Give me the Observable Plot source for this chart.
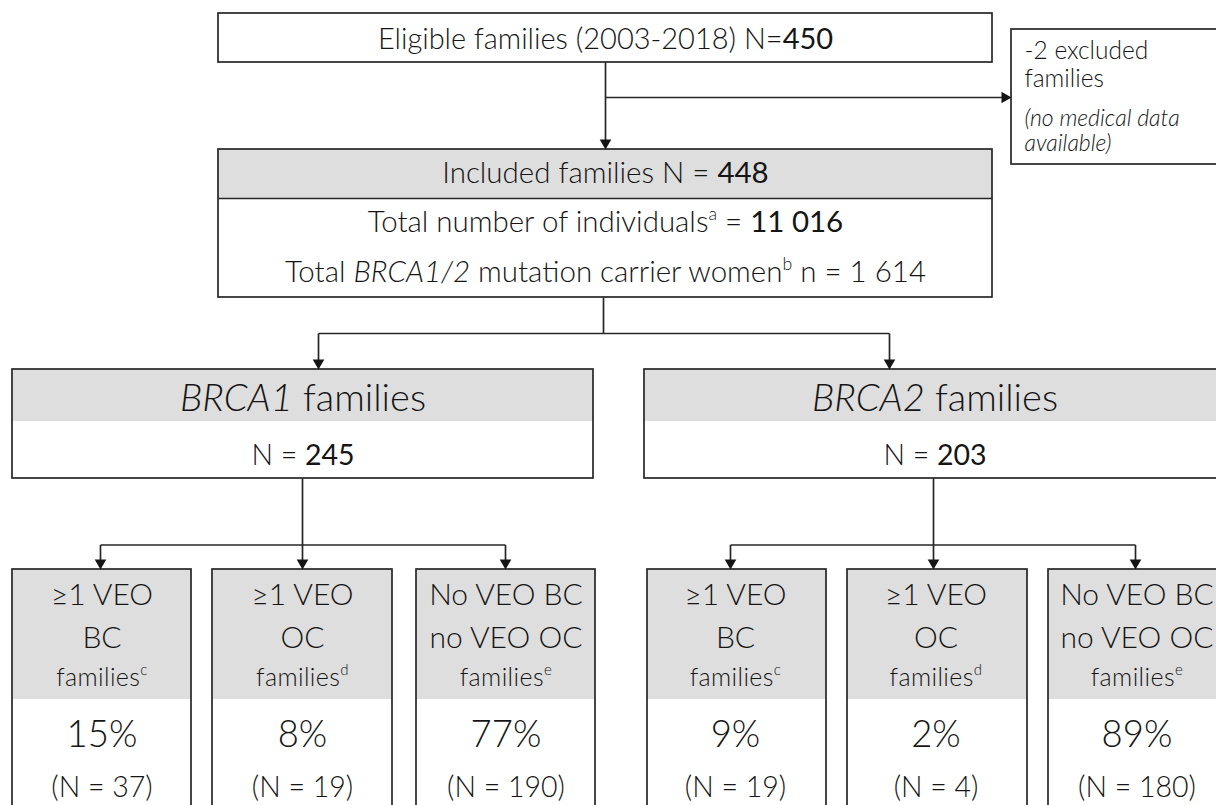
<!DOCTYPE html>
<html>
<head>
<meta charset="utf-8">
<script src="https://cdn.jsdelivr.net/npm/d3@7"></script>
<script src="https://cdn.jsdelivr.net/npm/@observablehq/plot@0.6"></script>
<style>
  html, body { margin: 0; padding: 0; overflow: hidden; background: #fff; }
  #chart svg { display: block; }
  .fam { letter-spacing: 0.4px; }
</style>
</head>
<body>
<div id="chart"></div>
<script>
// ---------------- DATA ----------------
const topCounts = [450, 2, 448];              // eligible, excluded, included families
const studyYears = ["2003", "2018"];
const totals = [11016, 1614];                  // individuals, BRCA1/2 carrier women
const genes = ["BRCA1", "BRCA2"];
const geneFamilies = [245, 203];
const groupTitles = [["≥1 VEO", "BC"], ["≥1 VEO", "OC"], ["No VEO BC", "no VEO OC"]];
const groupNotes = ["c", "d", "e"];
const groupPct = [[15, 8, 77], [9, 2, 89]];
const groupN = [[37, 19, 190], [19, 4, 180]];

// ---------------- LAYOUT ----------------
const W = 1216, H = 805;
const GREY = "#dedede", INK = "#151515", LINE = "#262626";
const topBox = {x1: 218, x2: 992, y1: 13, y2: 62};
const exclBox = {x1: 1011, x2: 1240, y1: 29, y2: 164};
const inclBox = {x1: 218, x2: 992, y1: 149, y2: 297, head: 198};
const geneBoxX = [[12, 593], [644, 1225]];
const geneY = {y1: 369, head: 421, y2: 478};
const subBoxX = [[[12, 191], [212, 392], [416, 595]], [[647, 826], [847, 1027], [1048, 1228]]];
const subY = {y1: 569, head: 699, y2: 818};
const mainX = 605, splitX = 603, splitY = 333, exclY = 97;
const geneArrowX = [318, 889];
const geneStemX = [302, 933];
const subSplitY = 544.5;
const subArrowX = [[100, 302, 505], [730, 933, 1135]];
const AR = 4.3;                                   // arrow dot radius
const AH = Math.sqrt(Math.PI * AR * AR / (3 * Math.sqrt(3))) * 2; // centre->tip distance

const fmt = n => d3.format(",")(n).replace(/,/g, " ");

// ---------------- BUILD ----------------
const greyRects = [
  {x1: inclBox.x1, x2: inclBox.x2, y1: inclBox.y1, y2: inclBox.head},
  ...geneBoxX.map(([a, b]) => ({x1: a, x2: b, y1: geneY.y1, y2: geneY.head})),
  ...subBoxX.flat().map(([a, b]) => ({x1: a, x2: b, y1: subY.y1, y2: subY.head}))
];
const outlineRects = [
  topBox, exclBox, inclBox,
  ...geneBoxX.map(([a, b]) => ({x1: a, x2: b, y1: geneY.y1, y2: geneY.y2})),
  ...subBoxX.flat().map(([a, b]) => ({x1: a, x2: b, y1: subY.y1, y2: subY.y2}))
];

const lines = [
  {x1: mainX, y1: topBox.y2, x2: mainX, y2: inclBox.y1 - AH},
  {x1: mainX, y1: exclY, x2: exclBox.x1 - AH, y2: exclY},
  {x1: inclBox.x1, y1: inclBox.head, x2: inclBox.x2, y2: inclBox.head},
  {x1: splitX, y1: inclBox.y2, x2: splitX, y2: splitY},
  {x1: geneArrowX[0], y1: splitY, x2: geneArrowX[1], y2: splitY},
  ...geneArrowX.map(x => ({x1: x, y1: splitY, x2: x, y2: geneY.y1 - AH}))
];
const arrows = [
  {x: mainX, y: inclBox.y1 - AH, rot: 180},
  {x: exclBox.x1 - AH, y: exclY, rot: 90},
  ...geneArrowX.map(x => ({x, y: geneY.y1 - AH, rot: 180}))
];
genes.forEach((g, gi) => {
  const sx = subArrowX[gi];
  lines.push({x1: geneStemX[gi], y1: geneY.y2, x2: geneStemX[gi], y2: subSplitY});
  lines.push({x1: sx[0], y1: subSplitY, x2: sx[2], y2: subSplitY});
  sx.forEach(x => {
    lines.push({x1: x, y1: subSplitY, x2: x, y2: subY.y1 - AH});
    arrows.push({x, y: subY.y1 - AH, rot: 180});
  });
});

const center = a => (a[0] + a[1]) / 2;
const midTexts = [
  {x: mainX, y: 39, t: `Eligible families (${studyYears[0]}-${studyYears[1]}) N=*${topCounts[0]}*`, fs: 29},
  {x: mainX, y: 173.5, t: `Included families N = *${topCounts[2]}*`, fs: 29.5},
  {x: mainX, y: 222.5, t: `Total number of individuals^a^ = *${fmt(totals[0])}*`, fs: 29.5},
  {x: mainX, y: 272.5, t: `Total _BRCA1/2_ mutation carrier women^b^ n = ${fmt(totals[1])}`, fs: 29.5}
];
const famTexts = [];
genes.forEach((g, gi) => {
  const cx = center(geneBoxX[gi]);
  midTexts.push({x: cx, y: 398.5, t: `_${g}_ families`, fs: 38});
  midTexts.push({x: cx, y: 455.5, t: `N = *${geneFamilies[gi]}*`, fs: 28.5});
  subBoxX[gi].forEach((bx, k) => {
    const c = center(bx) - gi * 1.5;
    midTexts.push({x: c, y: 594.5, t: groupTitles[k][0], fs: 30});
    midTexts.push({x: c, y: 638, t: groupTitles[k][1], fs: 30});
    famTexts.push({x: c, y: 677, t: `families^${groupNotes[k]}^`, fs: 25});
    midTexts.push({x: c, y: 735, t: `${groupPct[gi][k]}%`, fs: 36.5});
    midTexts.push({x: c, y: 787.5, t: `(N = ${groupN[gi][k]})`, fs: 28.5});
  });
});
const startTexts = [
  {x: 1024, y: 51, t: `-${topCounts[1]} excluded`, fs: 24.5},
  {x: 1024, y: 78.5, t: "families", fs: 24.5},
  {x: 1024, y: 118, t: "_(no medical data_", fs: 23},
  {x: 1024, y: 143.5, t: "_available)_", fs: 23}
];

const plot = Plot.plot({
  width: W, height: H, margin: 0,
  x: {domain: [0, W], range: [0, W], axis: null},
  y: {domain: [0, H], range: [0, H], axis: null},
  style: {fontFamily: "Lato, 'Open Sans', sans-serif", background: "#fff", overflow: "hidden"},
  marks: [
    Plot.rect(greyRects, {x1: "x1", x2: "x2", y1: "y1", y2: "y2", fill: GREY}),
    Plot.rect(outlineRects, {x1: "x1", x2: "x2", y1: "y1", y2: "y2", fill: "none", stroke: LINE, strokeWidth: 1.7}),
    Plot.link(lines, {x1: "x1", y1: "y1", x2: "x2", y2: "y2", stroke: LINE, strokeWidth: 1.7}),
    Plot.dot(arrows, {x: "x", y: "y", symbol: "triangle", r: AR, rotate: "rot", fill: INK, stroke: "none"}),
    Plot.text(midTexts, {x: "x", y: "y", text: "t", fontSize: "fs", textAnchor: "middle", fill: INK, fontWeight: 300}),
    Plot.text(famTexts, {x: "x", y: "y", text: "t", fontSize: "fs", textAnchor: "middle", fill: INK, fontWeight: 300, className: "fam"}),
    Plot.text(startTexts, {x: "x", y: "y", text: "t", fontSize: "fs", textAnchor: "start", fill: INK, fontWeight: 300})
  ]
});

// rich text: _italic_, *bold*, ^superscript^
const NS = "http://www.w3.org/2000/svg";
plot.querySelectorAll("text").forEach(t => {
  const s = t.textContent;
  if (!/[_*^]/.test(s)) return;
  const parts = s.split(/(_[^_]+_|\*[^*]+\*|\^[^^]+\^)/g).filter(p => p !== "");
  t.textContent = "";
  let reset = null;
  for (const p of parts) {
    const ts = document.createElementNS(NS, "tspan");
    const wrapped = p.length > 1 && p[0] === p[p.length - 1] && "_*^".includes(p[0]);
    const body = wrapped ? p.slice(1, -1) : p;
    ts.textContent = body;
    if (wrapped && p[0] === "_") ts.setAttribute("font-style", "italic");
    if (wrapped && p[0] === "*") ts.setAttribute("font-weight", 400);
    if (wrapped && p[0] === "^") {
      ts.setAttribute("font-size", "0.6em");
      ts.setAttribute("dy", "-0.7em");
      reset = "0.42em";
    } else if (reset) {
      ts.setAttribute("dy", reset);
      reset = null;
    }
    t.appendChild(ts);
  }
});

document.getElementById("chart").appendChild(plot);
</script>
</body>
</html>
